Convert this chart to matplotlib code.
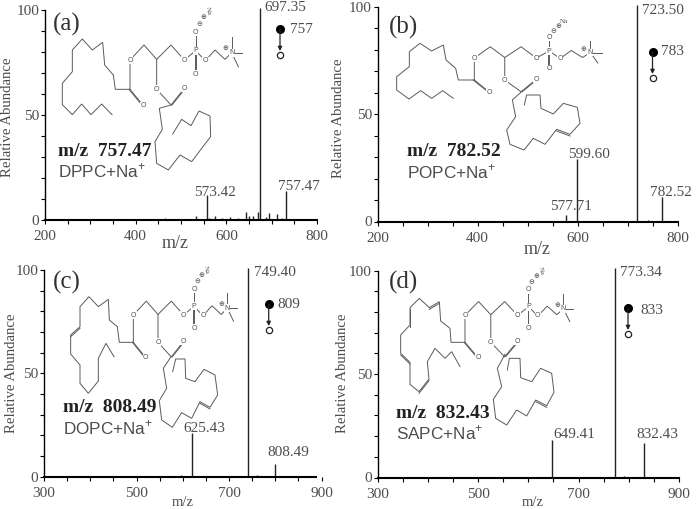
import matplotlib
matplotlib.use('Agg')
import matplotlib.pyplot as plt

plt.rcParams['font.family'] = ['Liberation Serif', 'DejaVu Sans']
plt.rcParams['mathtext.fontset'] = 'custom'
plt.rcParams['mathtext.rm'] = 'Liberation Sans'

W, H = 697, 509
GREY = '#4d4d4d'
LINE = '#5a5a5a'

# peaks (x where they are drawn against the axis, y in %)
peaks_a_x = [465, 483, 512, 534, 557, 562, 575, 590, 608, 626, 643, 651, 659, 670, 674, 687, 695, 711, 722, 731]
peaks_a_y = [1, 0.6, 0.5, 2, 12, 0.8, 2, 1, 1.5, 1, 4, 2, 2, 4, 101, 1.5, 3.5, 3, 1, 14]
peaks_b_x = [577, 599, 718, 740, 769]
peaks_b_y = [3, 29, 101, 0.8, 11.6]
peaks_c_x = [597, 620, 637, 742, 760, 800]
peaks_c_y = [0.5, 21, 0.3, 101, 0.8, 6]
peaks_d_x = [648, 745, 772, 790, 831]
peaks_d_y = [18, 0.4, 101, 0.8, 16.6]

ticks_ab = [200, 400, 600, 800]
ticks_cd = [300, 500, 700, 900]
minor_ab = [250, 300, 350, 450, 500, 550, 650, 700, 750]
minor_cd = [350, 400, 450, 550, 600, 650, 750, 800, 850]

# ester carbon chains (pixels x3, relative to the panel corner)
chain1_a = [(390,268),(346,268),(340,225),(314,195),(308,127),(277,150),(247,117),(217,150),(217,215),(187,250),(187,314),(217,344),(245,312),(273,344),(305,312),(336,344)]
chain2_a = [(513,315),(478,325),(487,388),(465,425),(470,490),(505,510),(540,465),(575,485),(605,445),(632,410),(630,348),(597,333),(573,377),(545,358),(518,402)]
chain1_b = [(373,240),(325,240),(317,205),(288,180),(280,135),(245,153),(210,130),(178,155),(178,200),(140,230),(140,270),(177,297),(212,272),(245,295),(278,272),(310,295)]
chain2_b = [(515,275),(487,300),(497,350),(470,390),(480,433),(522,450),(550,415),(585,433),(620,388),(660,403),(690,370),(682,322),(640,310),(610,342),(573,325),(570,285),(530,285),(523,315)]
chain1_c = [(400,262),(358,262),(352,215),(328,195),(325,133),(295,155),(267,125),(240,155),(240,215),(212,240),(212,297),(240,330),(240,385),(265,415),(295,378),(295,310),(318,265),(342,305)]
chain2_c = [(513,305),(490,340),(500,400),(478,437),(485,495),(517,517),(545,473),(575,490),(600,440),(630,457),(653,420),(645,360),(612,343),(585,380),(557,370),(555,312),(527,312),(518,350)]
chain1_d = [(345,262),(303,262),(300,220),(272,198),(268,140),(238,158),(208,130),(180,158),(180,210),(152,240),(152,295),(180,322),(180,388),(207,410),(237,372),(232,320),(255,280),(285,310),(305,290),(330,335)]
chain2_d = [(465,298),(442,340),(455,395),(430,433),(437,490),(470,510),(500,465),(530,483),(557,435),(590,452),(612,412),(605,355),(572,340),(545,380),(512,368),(510,310),(478,310),(472,345)]
double_b = [((620,388),(660,403))]
double_c = [((240,215),(212,240)), ((600,440),(630,457))]
double_d = [((238,158),(268,140)), ((180,158),(180,210)), ((152,295),(180,322)), ((207,410),(237,372)), ((557,435),(590,452))]

# head group, relative to the sn-1 ester carbon of panel (a)
head_lines = [[(0,0),(0,-88),(42,-133),(80,-90),(123,-133),(163,-88),(197,-116),(226,-86),(255,-118),(285,-90),(305,-110)],
              [(197,-116),(197,-171)], [(197,-116),(197,-46)], [(194,-116),(194,-46)],
              [(305,-110),(305,-158)], [(305,-110),(335,-110)], [(305,-110),(325,-68)],
              [(80,-90),(80,0),(123,47),(163,-3)], [(126,47),(166,-3)],
              [(0,0),(40,49)], [(-3,0),(37,49)]]
head_atoms = [(0,-88,'O'),(163,-88,'O'),(197,-116,'P'),(197,-171,'O'),(197,-46,'O'),(226,-86,'O'),(305,-110,'N'),(80,0,'O'),(163,-3,'O'),(40,49,'O')]

fig = plt.figure(figsize=(W / 100, H / 100), dpi=100)


def make_axes(box, xlim, xs, ys, major, minor, bound=None):
    left, right, top, bottom = box
    ax = fig.add_axes([left / W, 1 - bottom / H, (right - left) / W, (bottom - top) / H])
    ax.vlines(xs, 0, ys, color='#222222', lw=1.0, clip_on=False)
    ax.set_xlim(xlim)
    ax.set_ylim(0, 100)
    ax.spines['top'].set_visible(False)
    ax.spines['right'].set_visible(False)
    ax.spines['left'].set_linewidth(1.0)
    ax.spines['bottom'].set_linewidth(1.5)
    if bound:
        ax.spines['bottom'].set_bounds(xlim[0], bound)
    ax.set_xticks(major)
    ax.set_xticks(minor, minor=True)
    ax.set_yticks([0, 50, 100])
    ax.set_yticks([10, 20, 30, 40, 60, 70, 80, 90], minor=True)
    ax.tick_params(which='both', length=3, width=0.8, labelsize=11, labelcolor=GREY)
    ax.tick_params(axis='x', which='both', pad=4.5)
    ax.tick_params(axis='y', which='both', pad=1)
    ax.patch.set_alpha(0)
    return ax


make_axes((45, 317, 10, 220), (200, 800), peaks_a_x, peaks_a_y, ticks_ab, minor_ab)
make_axes((377.5, 678, 7, 221.5), (200, 800), peaks_b_x, peaks_b_y, ticks_ab, minor_ab)
make_axes((44, 321.5, 270, 476.5), (300, 900), peaks_c_x, peaks_c_y, ticks_cd, minor_cd, bound=889)
make_axes((377.5, 679, 270.5, 477.5), (300, 900), peaks_d_x, peaks_d_y, ticks_cd, minor_cd)

# overlay in pixels for the annotations and the structures
ov = fig.add_axes([0, 0, 1, 1])
ov.set_xlim(0, W)
ov.set_ylim(H, 0)
ov.axis('off')


def poly(pts, ox, oy, lw=0.7):
    ov.plot([ox + p[0] / 3 for p in pts], [oy + p[1] / 3 for p in pts], color=LINE, lw=lw, solid_joinstyle='miter')


def lipid(ox, oy, anchor, sx, sy, chain1, chain2, doubles, na_rot):
    def place(p):
        return (anchor[0] + p[0] * sx, anchor[1] + p[1] * sy)
    for part in head_lines:
        poly([place(p) for p in part], ox, oy)
    poly(chain1, ox, oy)
    poly(chain2, ox, oy)
    for a, b in doubles:
        poly([(a[0], a[1] + 5), (b[0], b[1] + 5)], ox, oy)
    for px, py, name in head_atoms:
        x, y = place((px, py))
        ov.text(ox + x / 3, oy + y / 3, name, fontsize=5, family='Liberation Sans', color=GREY, ha='center', va='center',
                bbox=dict(facecolor='white', edgecolor='none', pad=0.3))
    for px, py, name, fs in [(207, -197, '\u2296', 5), (220, -216, '\u2295', 5), (286, -123, '\u2295', 5)]:
        x, y = place((px, py))
        ov.text(ox + x / 3, oy + y / 3, name, fontsize=fs, family='DejaVu Sans', color=GREY, ha='center', va='center')
    x, y = place((235, -235))
    ov.text(ox + x / 3, oy + y / 3, 'Na', fontsize=5, color=GREY, ha='center', va='center', rotation=na_rot)


lipid(0, 0, (390, 268), 1.0, 1.0, chain1_a, chain2_a, [], -80)
lipid(350, 0, (373, 240), 1.14, 0.75, chain1_b, chain2_b, double_b, 0)
lipid(0, 255, (400, 262), 0.925, 0.93, chain1_c, chain2_c, double_c, -80)
lipid(350, 255, (345, 262), 0.967, 0.92, chain1_d, chain2_d, double_d, -80)

# panel letter, m/z caption, species caption
captions = [('(a)', 53, 24, 'm/z  757.47', 58, 151, 'DPPC+Na$^{+}$', 171),
            ('(b)', 389, 27, 'm/z  782.52', 407, 152, 'POPC+Na$^{+}$', 172),
            ('(c)', 53, 282, 'm/z  808.49', 63, 408, 'DOPC+Na$^{+}$', 428),
            ('(d)', 389, 282, 'm/z  832.43', 396, 413, 'SAPC+Na$^{+}$', 433)]
for letter, lx, ly, mz, mx, my, species, sy in captions:
    ov.text(lx, ly, letter, fontsize=18, color='#333333', va='center')
    ov.text(mx, my, mz, fontsize=14, fontweight='bold', color='#222222', va='center')
    ov.text(mx, sy, species, fontsize=12.3, family='Liberation Sans', color=GREY, va='center')

peak_labels = [('697.35', 285, 7), ('573.42', 215, 192), ('757.47', 299, 186),
               ('723.50', 663, 10), ('599.60', 589, 154), ('577.71', 571, 207), ('782.52', 671, 192),
               ('749.40', 275, 272), ('625.43', 204, 429), ('808.49', 288, 452),
               ('773.34', 641, 272), ('649.41', 574, 434), ('832.43', 657, 435)]
for label, x, y in peak_labels:
    ov.text(x, y, label, fontsize=11, color=GREY, ha='center', va='center')

for x, y in [(8, 117), (338, 118), (12, 373), (342, 373)]:
    ov.text(x, y, 'Relative Abundance', fontsize=10.6, color=GREY, rotation=90, ha='center', va='center')

for x, y, fs in [(175, 243, 13), (537, 250, 13), (183, 503, 10.5), (533, 503, 10.5)]:
    ov.text(x, y, 'm/z', fontsize=fs, color=GREY, ha='center', va='center')

# precursor -> fragment symbols
symbols = [(280, 29, 55, '757', 290, 29), (652.5, 52, 78, '783', 661.5, 51),
           (268.7, 304, 330, '809', 277, 305), (628, 308, 334, '833', 640, 310)]
for x, y0, y1, label, tx, ty in symbols:
    ov.annotate('', xy=(x, y1 - 4), xytext=(x, y0), arrowprops=dict(arrowstyle='-|>', color='#222222', lw=0.9, mutation_scale=6, shrinkA=0, shrinkB=0))
    ov.plot([x], [y0], 'o', color='black', ms=5.5)
    ov.plot([x], [y1], 'o', mfc='white', mec='#222222', mew=0.9, ms=4.5)
    ov.text(tx, ty, label, fontsize=11, color=GREY, va='center')

plt.savefig('out.png', dpi=100)
